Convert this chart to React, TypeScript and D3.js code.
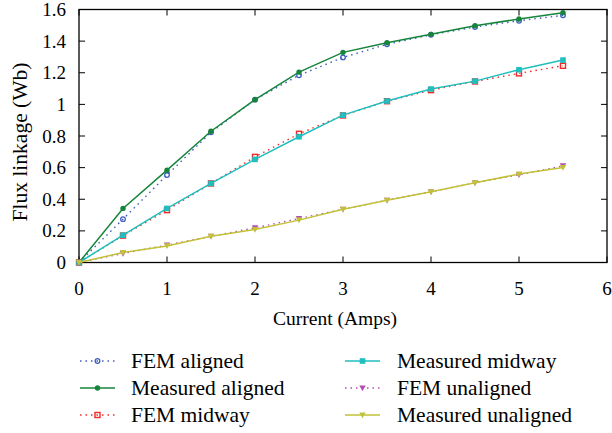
import React from "react";
import * as d3 from "d3";

const currents = [0, 0.5, 1, 1.5, 2, 2.5, 3, 3.5, 4, 4.5, 5, 5.5];
const femAligned = [0, 0.274, 0.553, 0.823, 1.03, 1.184, 1.297, 1.38, 1.44, 1.489, 1.529, 1.563];
const measuredAligned = [0, 0.342, 0.584, 0.83, 1.03, 1.204, 1.329, 1.39, 1.443, 1.497, 1.54, 1.58];
const femMidway = [0, 0.17, 0.331, 0.5, 0.668, 0.814, 0.93, 1.02, 1.09, 1.145, 1.196, 1.244];
const measuredMidway = [0, 0.173, 0.342, 0.5, 0.652, 0.795, 0.932, 1.021, 1.097, 1.147, 1.219, 1.28];
const femUnaligned = [0, 0.057, 0.11, 0.166, 0.219, 0.278, 0.337, 0.394, 0.447, 0.504, 0.555, 0.611];
const measuredUnaligned = [0, 0.063, 0.105, 0.166, 0.209, 0.268, 0.337, 0.394, 0.447, 0.504, 0.559, 0.601];

const xTicks = [0, 1, 2, 3, 4, 5, 6];
const yTicks = [0, 0.2, 0.4, 0.6, 0.8, 1, 1.2, 1.4, 1.6];

type Series = { name: string; values: number[]; color: string; dashed: boolean; marker: string };

const series: Series[] = [
  { name: "FEM aligned", values: femAligned, color: "#3f5fbf", dashed: true, marker: "openCircle" },
  { name: "Measured aligned", values: measuredAligned, color: "#16843a", dashed: false, marker: "circle" },
  { name: "FEM midway", values: femMidway, color: "#f02a2a", dashed: true, marker: "openSquare" },
  { name: "Measured midway", values: measuredMidway, color: "#1fbfbf", dashed: false, marker: "square" },
  { name: "FEM unaligned", values: femUnaligned, color: "#b54fb5", dashed: true, marker: "triangle" },
  { name: "Measured unaligned", values: measuredUnaligned, color: "#c2c239", dashed: false, marker: "triangle" },
];

const FONT = "Liberation Serif";

function Marker({ kind, x, y, color }: { kind: string; x: number; y: number; color: string }) {
  if (kind === "circle") return <circle cx={x} cy={y} r={2.7} fill={color} />;
  if (kind === "openCircle") return <circle cx={x} cy={y} r={2.3} fill="none" stroke={color} strokeWidth={1.3} />;
  if (kind === "square") return <rect x={x - 2.8} y={y - 2.8} width={5.6} height={5.6} fill={color} />;
  if (kind === "openSquare") return <rect x={x - 2.5} y={y - 2.5} width={5} height={5} fill="none" stroke={color} strokeWidth={1.4} />;
  const s = 3.2;
  return <path d={`M${x - s},${y - s * 0.8}L${x + s},${y - s * 0.8}L${x},${y + s}Z`} fill={color} />;
}

function T(props: any) {
  const { size, children, ...rest } = props;
  return (
    <text {...rest} fontFamily={FONT} fontSize={size} style={{ fontFamily: FONT, fontSize: size }}>
      {children}
    </text>
  );
}

export default function App() {
  const W = 612, H = 433;
  const left = 79, right = 607, top = 9.5, bottom = 262.5;
  const x = d3.scaleLinear().domain([0, 6]).range([left, right]);
  const y = d3.scaleLinear().domain([0, 1.6]).range([bottom, top]);
  const line = d3.line<number>().x((_, i) => x(currents[i])).y((d) => y(d));

  const legendPos = [
    { lx: 80, tx: 131, y: 361 },
    { lx: 80, tx: 131, y: 388 },
    { lx: 80, tx: 131, y: 415 },
    { lx: 345, tx: 397, y: 361 },
    { lx: 345, tx: 397, y: 388 },
    { lx: 345, tx: 397, y: 415 },
  ];

  return (
    <svg width={W} height={H} style={{ position: "absolute", left: 0, top: 0, background: "#fff" }}>
      <rect x={0} y={0} width={W} height={H} fill="#fff" />
      {xTicks.map((t) => (
        <g key={"x" + t}>
          <line x1={x(t)} x2={x(t)} y1={bottom} y2={bottom - 6} stroke="#000" strokeWidth={1} />
          <line x1={x(t)} x2={x(t)} y1={top} y2={top + 6} stroke="#000" strokeWidth={1} />
          <T x={x(t)} y={295} textAnchor="middle" size={19}>{t}</T>
        </g>
      ))}
      {yTicks.map((t) => (
        <g key={"y" + t}>
          <line x1={left} x2={left + 6} y1={y(t)} y2={y(t)} stroke="#000" strokeWidth={1} />
          <line x1={right} x2={right - 6} y1={y(t)} y2={y(t)} stroke="#000" strokeWidth={1} />
          <T x={66} y={y(t) + 6.5} textAnchor="end" size={19}>{d3.format("~g")(t)}</T>
        </g>
      ))}
      <rect x={left} y={top} width={right - left} height={bottom - top} fill="none" stroke="#000" strokeWidth={1.3} />
      {series.map((s) => (
        <g key={s.name}>
          <path d={line(s.values) || ""} fill="none" stroke={s.color} strokeWidth={s.dashed ? 1.4 : 1.5}
            strokeDasharray={s.dashed ? "1.5,4" : undefined} />
          {s.values.map((v, i) => (
            <Marker key={i} kind={s.marker} x={x(currents[i])} y={y(v)} color={s.color} />
          ))}
        </g>
      ))}
      <T x={335} y={325} textAnchor="middle" size={19.5}>Current (Amps)</T>
      <T transform="translate(27,142) rotate(-90)" textAnchor="middle" size={21.5}>Flux linkage (Wb)</T>
      {series.map((s, i) => {
        const p = legendPos[i];
        return (
          <g key={"lg" + s.name}>
            <line x1={p.lx} x2={p.lx + 35} y1={p.y} y2={p.y} stroke={s.color} strokeWidth={s.dashed ? 1.4 : 1.5}
              strokeDasharray={s.dashed ? "1.5,4" : undefined} />
            <Marker kind={s.marker} x={p.lx + 17.5} y={p.y} color={s.color} />
            <T x={p.tx} y={p.y + 7} size={21.5}>{s.name}</T>
          </g>
        );
      })}
    </svg>
  );
}
